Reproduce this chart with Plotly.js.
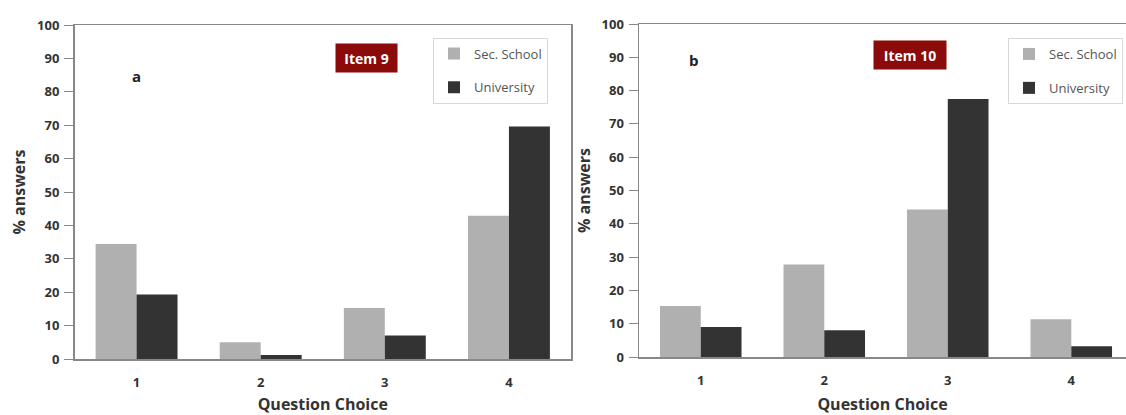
<!DOCTYPE html>
<html>
<head>
<meta charset="utf-8">
<script src="https://cdn.plot.ly/plotly-3.0.1.min.js"></script>
<style>html,body{margin:0;padding:0;background:#fff;}#chart{width:1126px;height:415px;}</style>
</head>
<body>
<div id="chart"></div>
<script>
const choices = [1, 2, 3, 4];
const item9Sec = [34.4, 5.0, 15.3, 42.9];
const item9Uni = [19.3, 1.2, 7.0, 69.6];
const item10Sec = [15.3, 27.8, 44.3, 11.3];
const item10Uni = [9.0, 8.0, 77.5, 3.2];
const seriesNames = ["Sec. School", "University"];
const colors = ["#b0b0b0", "#333333"];

const W = 1126, H = 415;
const px = v => v / W;
const py = v => 1 - v / H;

const traces = [
  {type:'bar', x:choices, y:item9Sec, name:seriesNames[0], marker:{color:colors[0]}, xaxis:'x', yaxis:'y', legend:'legend', legendgroup:'a1'},
  {type:'bar', x:choices, y:item9Uni, name:seriesNames[1], marker:{color:colors[1]}, xaxis:'x', yaxis:'y', legend:'legend', legendgroup:'a2'},
  {type:'bar', x:choices, y:item10Sec, name:seriesNames[0], marker:{color:colors[0]}, xaxis:'x2', yaxis:'y2', legend:'legend2', legendgroup:'b1'},
  {type:'bar', x:choices, y:item10Uni, name:seriesNames[1], marker:{color:colors[1]}, xaxis:'x2', yaxis:'y2', legend:'legend2', legendgroup:'b2'}
];

const tickFont = {family:'Open Sans, sans-serif', size:13, color:'#333', weight:'bold'};
const titleFont = {family:'Open Sans, sans-serif', size:16, color:'#333', weight:'bold'};

const xBase = {
  tickvals: choices, ticktext: choices.map(String), ticks:'', tickfont: tickFont,
  ticklabelstandoff: 11,
  showline:true, linecolor:'#888', linewidth:1.5, mirror:true, showgrid:false, zeroline:false,
  fixedrange:true, automargin:false,
  title:{text:'Question Choice', font:titleFont, standoff:11}
};
const yBase = {
  range:[0,100], dtick:10, tick0:0, ticks:'outside', ticklen:9, tickcolor:'#888', tickwidth:1,
  ticklabelstandoff: 2,
  tickfont: tickFont, showline:true, linecolor:'#888', linewidth:1.5, showgrid:false, zeroline:false,
  automargin:false, title:{text:'% answers', font:titleFont, standoff:7}
};
const legendBase = {
  bgcolor:'#fff', bordercolor:'#d8d8d8', borderwidth:1,
  font:{family:'Open Sans, sans-serif', size:13, color:'#555'},
  traceorder:'grouped', tracegroupgap:14, xanchor:'left', yanchor:'top', itemwidth:30
};
const boxFont = {family:'Open Sans, sans-serif', size:14, color:'#fff', weight:'bold'};
const letterFont = {family:'Open Sans, sans-serif', size:15, color:'#222', weight:'bold'};

const layout = {
  width:W, height:H,
  margin:{l:0, r:0, t:0, b:0},
  paper_bgcolor:'#fff', plot_bgcolor:'#fff',
  barmode:'group', bargap:0.34, bargroupgap:0,
  showlegend:true,
  xaxis: Object.assign({}, xBase, {domain:[px(74.5), px(571)], range:[0.5,4.5], anchor:'y'}),
  yaxis: Object.assign({}, yBase, {domain:[py(359), py(25)], anchor:'x', mirror:true}),
  xaxis2: Object.assign({}, xBase, {domain:[px(639), 1], range:[0.5,4.443], anchor:'y2'}),
  yaxis2: Object.assign({}, yBase, {domain:[py(357), py(24)], anchor:'x2', mirror:false}),
  legend: Object.assign({}, legendBase, {x:px(433), y:py(37.5)}),
  legend2: Object.assign({}, legendBase, {x:px(1008), y:py(38)}),
  annotations:[
    {text:'a', xref:'paper', yref:'paper', x:px(136), y:py(76), xanchor:'center', yanchor:'middle', showarrow:false, font:letterFont},
    {text:'b', xref:'paper', yref:'paper', x:px(694), y:py(60), xanchor:'center', yanchor:'middle', showarrow:false, font:letterFont},
    {text:'Item 9', xref:'paper', yref:'paper', x:px(366.5), y:py(58), xanchor:'center', yanchor:'middle', showarrow:false,
     bgcolor:'#8b0b0b', borderpad:4, width:53, height:20, font:boxFont},
    {text:'Item 10', xref:'paper', yref:'paper', x:px(910), y:py(55), xanchor:'center', yanchor:'middle', showarrow:false,
     bgcolor:'#8b0b0b', borderpad:4, width:64, height:20, font:boxFont}
  ]
};

Plotly.newPlot('chart', traces, layout, {staticPlot:true, displayModeBar:false});
</script>
</body>
</html>
